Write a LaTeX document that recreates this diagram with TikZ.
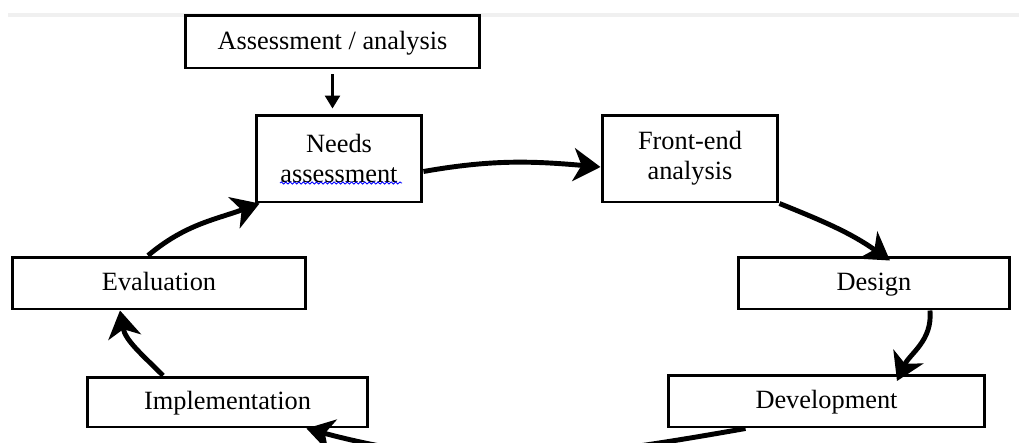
\documentclass[tikz,border=0pt]{standalone}
\usepackage{fontspec}
\setmainfont{Liberation Serif}
\usetikzlibrary{arrows.meta, decorations.pathmorphing}
\tikzset{
    box/.style={draw,line width=1.7pt,rectangle,inner sep=0pt,
        text height=2.3ex,text depth=0.35ex,
        font=\fontsize{15}{17}\selectfont},
    tallbox/.style={draw,line width=1.7pt,rectangle,inner sep=0pt,align=center,
        font=\fontsize{15}{17}\selectfont},
    flow/.style={line width=2.8pt,-{Stealth[length=0.54cm,width=0.66cm,inset=0.16cm]}},
    feed/.style={line width=1.5pt,-{Triangle[length=0.26cm,width=0.3cm]}},
    wavy/.style={blue,line width=0.5pt,decorate,
        decoration={snake,amplitude=0.6pt,segment length=2.5pt}},
}
\begin{document}
\begin{tikzpicture}[x=0.02cm,y=-0.02cm]
\useasboundingbox (0,0) rectangle (1019,443);
\clip (0,0) rectangle (1019,443);
\draw[gray!12,line width=2pt] (8,15) -- (1019,15);
\node[box,minimum width=5.9cm,minimum height=1.06cm]      (assess) at (332.5,41.5) {Assessment / analysis};
\node[tallbox,minimum width=3.32cm,minimum height=1.74cm] (needs)  at (339,158.5) {Needs\\assessment};
\node[tallbox,minimum width=3.52cm,minimum height=1.74cm] (front)  at (690,158.5) {Front-end\\analysis};
\node[box,minimum width=5.44cm,minimum height=1.04cm]     (design) at (874,283) {Design};
\node[box,minimum width=6.34cm,minimum height=1.04cm]     (devel)  at (826.5,401) {Development};
\node[box,minimum width=5.62cm,minimum height=1.0cm]      (impl)   at (227.5,402) {Implementation};
\node[box,minimum width=5.88cm,minimum height=1.04cm]     (eval)   at (159,283) {Evaluation};
\draw[wavy] (280,183) -- (402,183);
% the cycle
\draw[feed,shorten <=0.1cm,shorten >=0.1cm] (assess.south) -- (assess.south |- needs.north);
\draw[flow] ([yshift=-0.26cm]needs.east) to[out=10,in=175] ([yshift=-0.17cm]front.west);
\draw[flow] (front.south east) to[out=-22,in=145] ([xshift=0.32cm,yshift=-0.1cm]design.north);
\draw[flow] ([xshift=1.12cm]design.south) to[out=-85,in=65] ([xshift=1.41cm,yshift=-0.15cm]devel.north);
\draw[flow] ([xshift=1.58cm]devel.south west) to[out=190,in=-15] ([xshift=-1.26cm]impl.south east);
\draw[flow] ([xshift=-1.29cm]impl.north) to[out=135,in=-80] ([xshift=-0.78cm]eval.south);
\draw[flow] ([xshift=-0.22cm]eval.north) to[out=40,in=200] ([xshift=0.1cm]needs.south west);
\end{tikzpicture}
\end{document}
